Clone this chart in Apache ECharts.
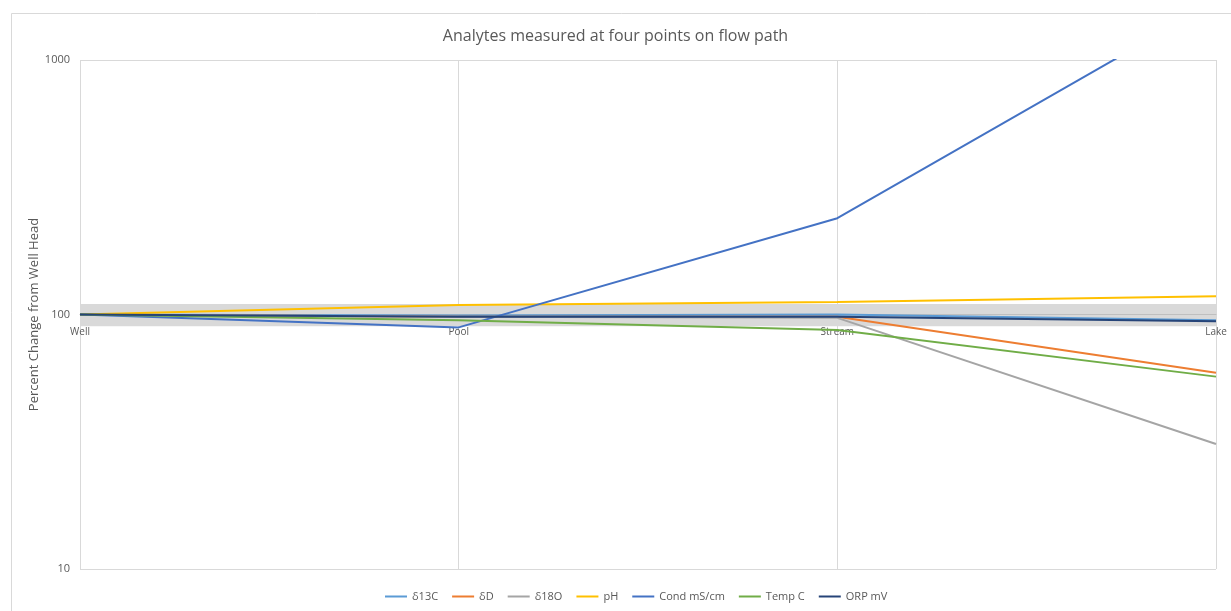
<!DOCTYPE html>
<html>
<head>
<meta charset="utf-8">
<script src="https://cdn.jsdelivr.net/npm/echarts@6/dist/echarts.min.js"></script>
<style>
  html, body { margin: 0; padding: 0; background: #ffffff; }
  #chart { width: 1231px; height: 611px; }
</style>
</head>
<body>
<div id="chart"></div>
<script>
// Sampling points along the flow path
const sites = ['Well', 'Pool', 'Stream', 'Lake'];

// Percent of the well-head value at each site
const d13C   = [100, 99, 100, 95];
const dD     = [100, 98, 98, 59];
const d18O   = [100, 98, 97, 31];
const pH     = [100, 109, 112, 118];
const cond   = [100, 89, 239, 1700];
const tempC  = [100, 95, 87, 57];
const orp    = [100, 98, 98, 94];

// Shaded +/-10% band around the well-head value
const bandLow = 90;
const bandHigh = 110;

// Log axis bounds
const yMin = 10;
const yMax = 1000;

const seriesDefs = [
  { name: 'δ13C', data: d13C, color: '#5b9bd5' },
  { name: 'δD', data: dD, color: '#ed7d31' },
  { name: 'δ18O', data: d18O, color: '#a5a5a5' },
  { name: 'pH', data: pH, color: '#ffc000' },
  { name: 'Cond mS/cm', data: cond, color: '#4472c4' },
  { name: 'Temp C', data: tempC, color: '#70ad47' },
  { name: 'ORP mV', data: orp, color: '#264478' }
];

const textColor = '#595959';
const font = '"Open Sans", "Liberation Sans", sans-serif';

const chart = echarts.init(document.getElementById('chart'), null, { renderer: 'canvas' });

const series = [{
  name: 'band',
  type: 'line',
  data: [],
  z: 1,
  silent: true,
  markArea: {
    silent: true,
    itemStyle: { color: '#d9d9d9', opacity: 1 },
    data: [[{ yAxis: bandLow }, { yAxis: bandHigh }]]
  }
}].concat(seriesDefs.map(s => ({
  name: s.name,
  type: 'line',
  data: s.data,
  z: 3,
  clip: true,
  showSymbol: false,
  symbol: 'none',
  lineStyle: { width: 2, color: s.color },
  itemStyle: { color: s.color }
})));

chart.setOption({
  animation: false,
  backgroundColor: '#ffffff',
  graphic: [{
    type: 'rect',
    left: 9, top: 11,
    shape: { width: 1240, height: 620 },
    style: { fill: 'none', stroke: '#d9d9d9', lineWidth: 1 },
    silent: true, z: -1
  }],
  title: {
    text: 'Analytes measured at four points on flow path',
    left: 'center',
    top: 23,
    textStyle: { color: textColor, fontSize: 16, fontWeight: 'normal', fontFamily: font }
  },
  legend: {
    bottom: 4,
    left: 380,
    icon: 'rect',
    itemWidth: 22,
    itemHeight: 2,
    itemGap: 14,
    data: seriesDefs.map(s => s.name),
    textStyle: { color: textColor, fontSize: 11, fontFamily: font }
  },
  grid: { left: 80, right: 15, top: 60, bottom: 42, containLabel: false },
  xAxis: {
    type: 'category',
    data: sites,
    boundaryGap: false,
    position: 'bottom',
    offset: -254.5,
    z: 2,
    axisLine: { show: true, lineStyle: { color: '#bfbfbf', width: 1 } },
    axisTick: { show: false },
    axisLabel: { color: textColor, fontSize: 10, fontFamily: font, margin: 13 },
    splitLine: { show: true, lineStyle: { color: '#d9d9d9', width: 1 } }
  },
  yAxis: {
    type: 'log',
    logBase: 10,
    min: yMin,
    max: yMax,
    name: 'Percent Change from Well Head',
    nameLocation: 'middle',
    nameGap: 39,
    nameMoveOverlap: false,
    nameTextStyle: { color: textColor, fontSize: 13, fontFamily: font },
    axisLine: { show: false },
    axisTick: { show: false },
    axisLabel: {
      color: textColor, fontSize: 11, fontFamily: font, margin: 10,
      formatter: v => String(Math.round(v))
    },
    splitLine: { show: true, lineStyle: { color: '#d9d9d9', width: 1 } },
    minorSplitLine: { show: false }
  },
  series: series
});
</script>
</body>
</html>
